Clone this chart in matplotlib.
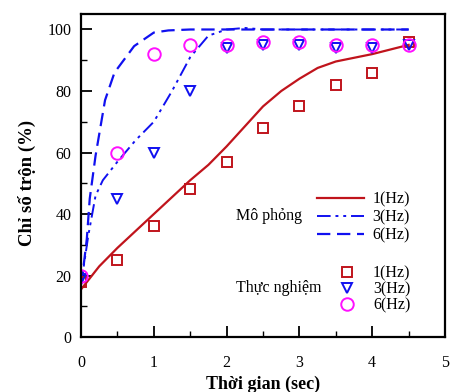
import matplotlib
matplotlib.use("Agg")
import matplotlib.pyplot as plt
from matplotlib.ticker import MultipleLocator

plt.rcParams['font.family'] = ['Liberation Serif', 'DejaVu Serif']

# Simulation curves
sim1_x = [0, 0.25, 0.5, 0.75, 1.0, 1.25, 1.5, 1.75, 2.0, 2.25, 2.5, 2.75, 3.0, 3.25, 3.5, 3.75, 4.0, 4.25, 4.5]
sim1_y = [15.5, 23, 29, 34.5, 40, 45.5, 51, 56, 62, 68.5, 75, 80, 84, 87.5, 89.6, 90.8, 92, 93.5, 95]
sim3_x = [0, 0.05, 0.1, 0.2, 0.3, 0.5, 0.75, 1.0, 1.25, 1.5, 1.75, 2.0, 2.25, 2.5, 4.5]
sim3_y = [17, 25, 33, 46, 51, 57, 64, 70, 80, 91, 98, 100, 100.5, 100, 100]
sim6_x = [0, 0.04, 0.08, 0.12, 0.2, 0.33, 0.46, 0.73, 1.0, 1.2, 1.5, 4.5]
sim6_y = [17, 24, 32, 45, 59, 77, 86, 94.6, 99, 99.7, 100, 100]

# Experimental points
exp_x = [0, 0.5, 1.0, 1.5, 2.0, 2.5, 3.0, 3.5, 4.0, 4.5]
exp1_y = [18, 25, 36, 48, 57, 68, 75, 82, 86, 96]
exp3_y = [19, 45, 60, 80, 94, 95, 95, 94, 94, 95]
exp6_y = [20, 60, 92, 95, 95, 96, 96, 95, 95, 95]

labels = ['1(Hz)', '3(Hz)', '6(Hz)']

red = '#C0141C'
blue = '#1010F0'
magenta = '#FF10FF'

fig = plt.figure(figsize=(4.5, 3.92), dpi=100)
ax = fig.add_axes([0.18, 0.14, 0.809, 0.824])

l1, = ax.plot(sim1_x, sim1_y, color=red, lw=1.6, ls='-')
l3, = ax.plot(sim3_x, sim3_y, color=blue, lw=1.4, ls=(0, (7, 2.5, 1.5, 2.5, 1.5, 2.5)))
l6, = ax.plot(sim6_x, sim6_y, color=blue, lw=1.6, ls=(0, (6, 3)))

m1, = ax.plot(exp_x, exp1_y, ls='none', marker='s', ms=7, mfc='none', mec=red, mew=1.4)
m3, = ax.plot(exp_x, exp3_y, ls='none', marker='v', ms=7.5, mfc='none', mec=blue, mew=1.4)
m6, = ax.plot(exp_x, exp6_y, ls='none', marker='o', ms=9, mfc='none', mec=magenta, mew=1.4)

ax.set_xlim(0, 5)
ax.set_ylim(0, 105)
ax.xaxis.set_major_locator(MultipleLocator(1))
ax.xaxis.set_minor_locator(MultipleLocator(0.5))
ax.yaxis.set_major_locator(MultipleLocator(20))
ax.yaxis.set_minor_locator(MultipleLocator(10))
ax.tick_params(which='major', direction='in', length=8, width=1.3, labelsize=11.5)
ax.tick_params(axis='y', which='major', pad=7)
ax.tick_params(axis='x', which='major', pad=13)
ax.tick_params(which='minor', direction='in', length=4, width=1.0)
for s in ax.spines.values():
    s.set_linewidth(1.6)

ax.set_xlabel('Thời gian (sec)', fontsize=13, fontweight='bold')
ax.set_ylabel('Chỉ số trộn (%)', fontsize=13.5, fontweight='bold')
ax.xaxis.set_label_coords(0.5, -0.118)
ax.yaxis.set_label_coords(-0.124, 0.477)

leg1 = ax.legend([l1, l3, l6], labels, loc='upper left', bbox_to_anchor=(0.632, 0.471),
                 frameon=False, fontsize=11.5, handlelength=2.9, handletextpad=0.55,
                 labelspacing=0.12, borderaxespad=0)
ax.add_artist(leg1)
leg2 = ax.legend([m1, m3, m6], labels, loc='upper left', bbox_to_anchor=(0.688, 0.242),
                 frameon=False, fontsize=11.5, handlelength=1.2, handletextpad=1.0,
                 labelspacing=0.0, borderaxespad=0)

ax.text(0.426, 0.375, 'Mô phỏng', transform=ax.transAxes, fontsize=11.5, va='center', ha='left')
ax.text(0.426, 0.153, 'Thực nghiệm', transform=ax.transAxes, fontsize=11.5, va='center', ha='left')

fig.savefig('out.png', dpi=100)
